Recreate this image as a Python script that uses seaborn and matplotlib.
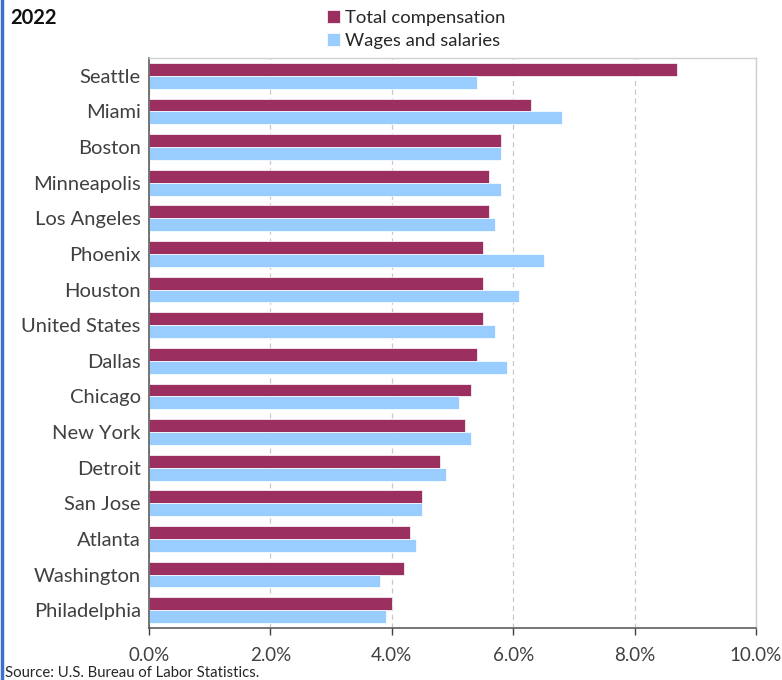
import pandas as pd
import matplotlib.pyplot as plt
import seaborn as sns
from matplotlib.lines import Line2D
from matplotlib.ticker import PercentFormatter

# 2022 compensation growth by metro area
cities = ['Seattle', 'Miami', 'Boston', 'Minneapolis', 'Los Angeles', 'Phoenix',
          'Houston', 'United States', 'Dallas', 'Chicago', 'New York', 'Detroit',
          'San Jose', 'Atlanta', 'Washington', 'Philadelphia']
total_comp = [8.7, 6.3, 5.8, 5.6, 5.6, 5.5, 5.5, 5.5, 5.4, 5.3, 5.2, 4.8, 4.5, 4.3, 4.2, 4.0]
wages = [5.4, 6.8, 5.8, 5.8, 5.7, 6.5, 6.1, 5.7, 5.9, 5.1, 5.3, 4.9, 4.5, 4.4, 3.8, 3.9]
series = ['Total compensation', 'Wages and salaries']
colors = ['#9B2F5F', '#99CCFF']

df = pd.DataFrame({
    'city': cities * 2,
    'value': total_comp + wages,
    'series': [series[0]] * len(cities) + [series[1]] * len(cities),
})

sns.set_theme(style='white')
plt.rcParams['font.family'] = ['Lato', 'DejaVu Sans']

fig = plt.figure(figsize=(7.82, 6.8), dpi=100)
ax = fig.add_axes([149 / 782, 52 / 680, 607 / 782, 570 / 680])

sns.barplot(data=df, x='value', y='city', hue='series', order=cities,
            hue_order=series, palette=colors, orient='h', width=0.72,
            saturation=1, ax=ax, legend=True, edgecolor='white', linewidth=0.5)

ax.set_xlim(0, 10)
ax.set_ylim(len(cities) - 0.5, -0.5)
ax.set_xticks([0, 2, 4, 6, 8, 10])
ax.xaxis.set_major_formatter(PercentFormatter(decimals=1))
ax.set_xlabel('')
ax.set_ylabel('')
ax.grid(axis='x', color='#c8c8c8', linestyle=(0, (4, 3)), linewidth=0.9)
ax.set_axisbelow(True)

ax.tick_params(axis='x', length=5, width=1, color='#404040', labelsize=13.5,
               labelcolor='#404040', pad=9, direction='out', bottom=True)
ax.tick_params(axis='y', length=0, labelsize=14.5, labelcolor='#404040', pad=6)

for side in ['left', 'bottom']:
    ax.spines[side].set_color('#505050')
    ax.spines[side].set_linewidth(1.1)
for side in ['top', 'right']:
    ax.spines[side].set_color('#d0d0d0')
    ax.spines[side].set_linewidth(1)

handles, labels = ax.get_legend_handles_labels()
ax.get_legend().remove()
fig.legend(handles, labels, loc='upper left', bbox_to_anchor=(327 / 782, 1 - 10 / 680),
           frameon=False, fontsize=13.3, handlelength=0.7, handleheight=0.7,
           handletextpad=0.3, labelspacing=0.38, borderpad=0, borderaxespad=0,
           labelcolor='#262626')

fig.text(10 / 782, 1 - 18 / 680, '2022', fontsize=14.5, fontweight='bold',
         color='#111111', va='center', ha='left')
fig.text(5 / 782, 1 - 673 / 680, 'Source: U.S. Bureau of Labor Statistics.',
         fontsize=10.7, color='#262626', va='center', ha='left')

# blue edge along the left side of the image
fig.add_artist(Line2D([0.002, 0.002], [0, 1], transform=fig.transFigure,
                      color='#3C6FD2', linewidth=2.5))

fig.savefig('out.png', dpi=100)
